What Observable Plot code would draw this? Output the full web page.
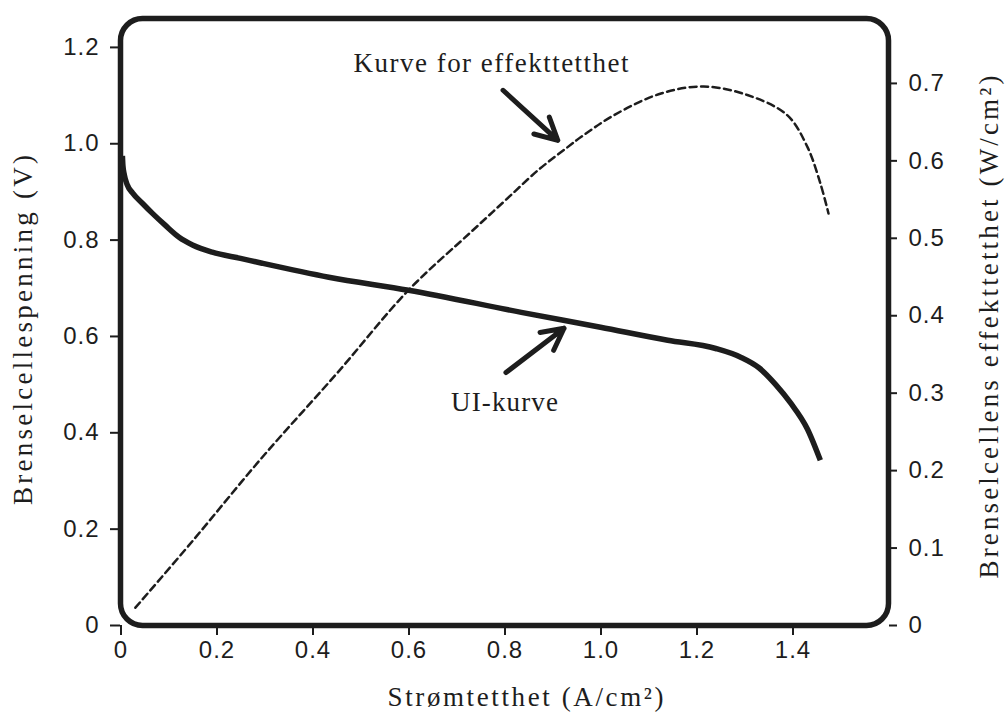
<!DOCTYPE html>
<html>
<head>
<meta charset="utf-8">
<script src="https://cdn.jsdelivr.net/npm/d3@7"></script>
<script src="https://cdn.jsdelivr.net/npm/@observablehq/plot@0.6"></script>
<style>
  html, body { margin: 0; padding: 0; background: #fff; }
  #chart { width: 1005px; height: 720px; }
  .tick-labels text { letter-spacing: 1px; }
</style>
</head>
<body>
<div id="chart"></div>
<script>
// ---- data ----
// UI-kurve: current density (A/cm²) vs. cell voltage (V)
const uiCurrent = [0.004, 0.005, 0.008, 0.014, 0.025, 0.046, 0.066, 0.093, 0.122, 0.15, 0.191, 0.25, 0.295, 0.434, 0.60, 0.835, 1.0, 1.14, 1.24, 1.292, 1.33, 1.365, 1.396, 1.431, 1.458];
const uiVoltage = [0.975, 0.955, 0.935, 0.915, 0.898, 0.876, 0.856, 0.831, 0.806, 0.790, 0.775, 0.762, 0.752, 0.723, 0.696, 0.65, 0.619, 0.592, 0.575, 0.557, 0.535, 0.50, 0.462, 0.408, 0.343];

// Kurve for effekttetthet: current density (A/cm²) vs. power density (W/cm²)
const pCurrent = [0.031, 0.15, 0.295, 0.45, 0.60, 0.73, 0.80, 0.87, 0.93, 0.96, 1.028, 1.126, 1.215, 1.306, 1.389, 1.431, 1.458, 1.475];
const pPower   = [0.023, 0.109, 0.217, 0.325, 0.433, 0.508, 0.548, 0.588, 0.617, 0.631, 0.659, 0.687, 0.696, 0.685, 0.659, 0.618, 0.571, 0.532];

// axis ticks
const xTicks = [0, 0.2, 0.4, 0.6, 0.8, 1.0, 1.2, 1.4];
const xTickLabels = ["0", "0.2", "0.4", "0.6", "0.8", "1.0", "1.2", "1.4"];
const vTicks = [0, 0.2, 0.4, 0.6, 0.8, 1.0, 1.2];
const vTickLabels = ["0", "0.2", "0.4", "0.6", "0.8", "1.0", "1.2"];
const pTicks = [0, 0.1, 0.2, 0.3, 0.4, 0.5, 0.6, 0.7];
const pTickLabels = ["0", "0.1", "0.2", "0.3", "0.4", "0.5", "0.6", "0.7"];

// texts
const xTitle = "Strømtetthet (A/cm²)";
const yLeftTitle = "Brenselcellespenning (V)";
const yRightTitle = "Brenselcellens effekttetthet (W/cm²)";
const noteLabels = ["Kurve for effekttetthet", "UI-kurve"];
const noteX = [0.772, 0.80];
const noteY = [1.167, 0.463];      // in volts (left scale)
const arrowX1 = [0.797, 0.803];
const arrowY1 = [1.111, 0.525];
const arrowX2 = [0.911, 0.924];
const arrowY2 = [1.007, 0.617];

// the right axis shares the pixel range; 1 W/cm² corresponds to this many volts
const powerToVolt = 1.6075;

// ---- build tables ----
const ui = uiCurrent.map((x, i) => ({x, y: uiVoltage[i]}));
const pw = pCurrent.map((x, i) => ({x, y: pPower[i] * powerToVolt}));
const notes = noteLabels.map((t, i) => ({t, x: noteX[i], y: noteY[i]}));
const arrows = arrowX1.map((x1, i) => ({x1, y1: arrowY1[i], x2: arrowX2[i], y2: arrowY2[i]}));
const pTicksV = pTicks.map(p => p * powerToVolt);

const ink = "#1d1d1d";
const serif = "'Liberation Serif', 'Times New Roman', serif";
const sans = "'Liberation Sans', Arial, sans-serif";

const chart = Plot.plot({
  width: 1005,
  height: 720,
  marginLeft: 120,
  marginRight: 117,
  marginTop: 18,
  marginBottom: 95,
  style: {fontFamily: sans, fontSize: "24px", color: ink, background: "#fff"},
  x: {domain: [0, 1.6]},
  y: {domain: [0, 1.26]},
  marks: [
    Plot.frame({stroke: ink, strokeWidth: 5.5, rx: 22}),
    Plot.axisX(xTicks, {anchor: "bottom", tickSize: 10, tickPadding: 5, strokeWidth: 2, className: "tick-labels", dx: 0.5,
      tickFormat: d => xTickLabels[xTicks.indexOf(d)], label: null, fontSize: 24, fill: ink}),
    Plot.axisY(vTicks, {anchor: "left", tickSize: 10, tickPadding: 11, strokeWidth: 2, className: "tick-labels",
      tickFormat: d => vTickLabels[vTicks.indexOf(d)], label: null, fontSize: 24, fill: ink}),
    Plot.axisY(pTicksV, {anchor: "right", tickSize: 8, tickPadding: 12, strokeWidth: 2, className: "tick-labels",
      tickFormat: d => pTickLabels[pTicksV.indexOf(d)], label: null, fontSize: 24, fill: ink}),
    Plot.line(pw, {x: "x", y: "y", stroke: ink, strokeWidth: 2.5, strokeDasharray: "7,4.5", curve: "catmull-rom"}),
    Plot.line(ui, {x: "x", y: "y", stroke: ink, strokeWidth: 5.5, curve: "monotone-x", strokeLinecap: "butt"}),
    Plot.arrow(arrows, {x1: "x1", y1: "y1", x2: "x2", y2: "y2", stroke: ink, strokeWidth: 5, headLength: 16, headAngle: 55}),
    Plot.text(notes, {x: "x", y: "y", text: "t", fontFamily: serif, fontSize: 27, fill: ink, className: "note-text"}),
    Plot.text([xTitle], {frameAnchor: "bottom", dx: 21, dy: 72, fontFamily: serif, fontSize: 27, fill: ink, lineAnchor: "middle", className: "x-title"}),
    Plot.text([yLeftTitle], {frameAnchor: "left", dx: -97, dy: 8, rotate: -90, textAnchor: "middle", fontFamily: serif, fontSize: 27, fill: ink, lineAnchor: "middle", className: "yl-title"}),
    Plot.text([yRightTitle], {frameAnchor: "right", dx: 101, dy: 5, rotate: -90, textAnchor: "middle", fontFamily: serif, fontSize: 27, fill: ink, lineAnchor: "middle", className: "yr-title"})
  ]
});
document.getElementById("chart").appendChild(chart);

// stretch serif labels to the reference's (Computer Modern-like) widths
const fit = (sel, lengths) => {
  d3.select(chart).selectAll(sel).each(function(_, i) {
    this.setAttribute("textLength", lengths[i]);
    this.setAttribute("lengthAdjust", "spacing");
  });
};
fit(".note-text text", [275, 107]);
fit(".x-title text", [276]);
fit(".yl-title text", [350]);
fit(".yr-title text", [503]);
</script>
</body>
</html>
